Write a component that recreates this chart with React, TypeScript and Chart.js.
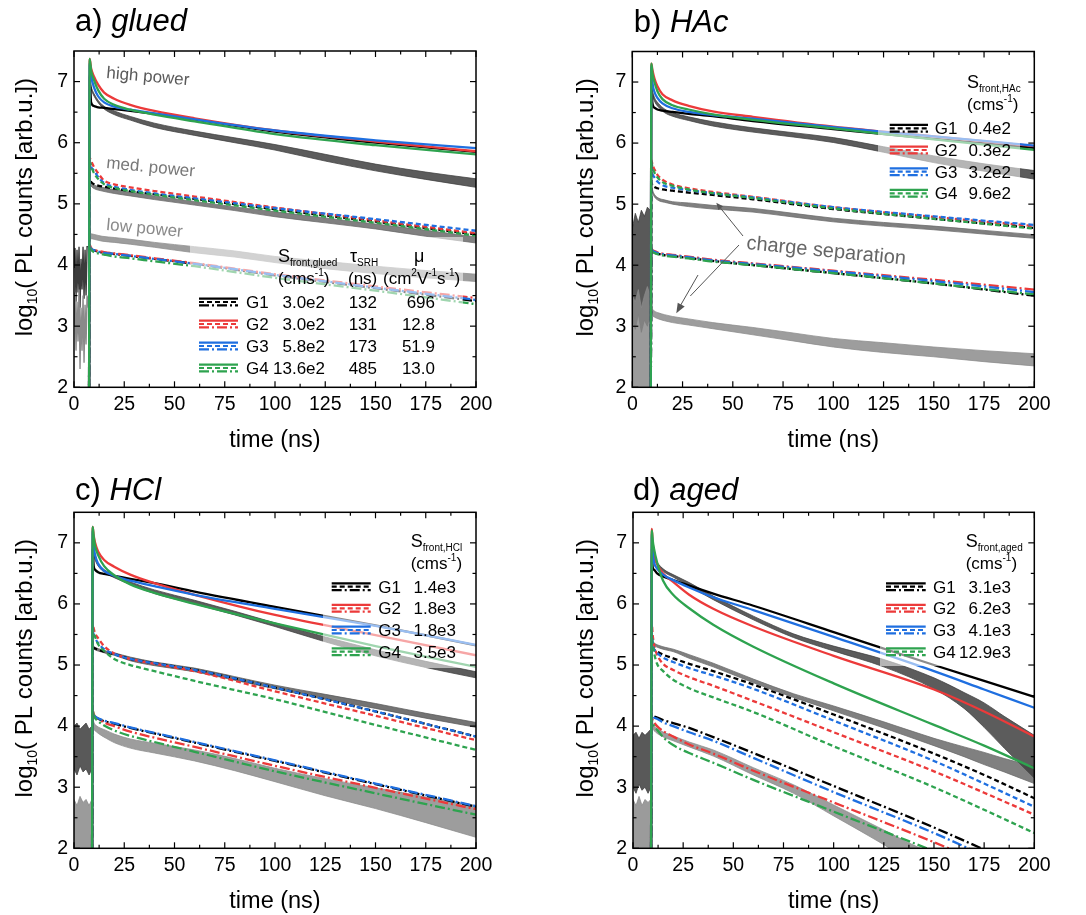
import React, { useEffect, useRef } from 'react';
import { Chart, registerables } from 'chart.js';

Chart.register(...registerables);

const FONT = '"Liberation Sans", Arial, Helvetica, sans-serif';
const W = 543;
const H = 457;

// ---------- axes ----------
const X_TICKS = [0, 25, 50, 75, 100, 125, 150, 175, 200];
const X_MINOR = [12.5, 37.5, 62.5, 87.5, 112.5, 137.5, 162.5, 187.5];
const Y_TICKS = [2, 3, 4, 5, 6, 7];
const Y_MINOR = [2.5, 3.5, 4.5, 5.5, 6.5];

// ---------- legend ----------
const GROUPS = ['G1', 'G2', 'G3', 'G4'];
const COLORS = ['#000000', '#ec3a3a', '#1f6fe0', '#2ea34f'];
const A_S = ['3.0e2', '3.0e2', '5.8e2', '13.6e2'];
const A_TAU = ['132', '131', '173', '485'];
const A_MU = ['696', '12.8', '51.9', '13.0'];
const B_S = ['0.4e2', '0.3e2', '3.2e2', '9.6e2'];
const C_S = ['1.4e3', '1.8e3', '1.8e3', '3.5e3'];
const D_S = ['3.1e3', '6.2e3', '4.1e3', '12.9e3'];

const MED_DASH = [5, 3];
const LOW_DASH = [10, 3, 2, 3];

// ---------- panel a) glued ----------
const T_A = [7.5, 7.8, 8.5, 10, 12, 15, 20, 28, 40, 60, 100, 150, 200];
const A_HI_G1 = [1.9, 7.1, 6.66, 6.6, 6.58, 6.57, 6.55, 6.52, 6.47, 6.38, 6.18, 6.0, 5.85];
const A_HI_G2 = [1.9, 7.37, 7.22, 7.08, 6.95, 6.82, 6.72, 6.62, 6.52, 6.4, 6.2, 6.02, 5.86];
const A_HI_G3 = [1.9, 7.3, 7.1, 6.9, 6.76, 6.66, 6.59, 6.54, 6.48, 6.38, 6.2, 6.04, 5.91];
const A_HI_G4 = [1.9, 7.37, 7.18, 7.02, 6.86, 6.72, 6.62, 6.54, 6.46, 6.35, 6.14, 5.96, 5.81];
const A_MED_G1 = [1.9, 5.4, 5.36, 5.32, 5.3, 5.28, 5.25, 5.21, 5.16, 5.08, 4.91, 4.71, 4.5];
const A_MED_G2 = [1.9, 5.75, 5.7, 5.6, 5.5, 5.38, 5.32, 5.27, 5.21, 5.12, 4.94, 4.73, 4.52];
const A_MED_G3 = [1.9, 5.65, 5.6, 5.54, 5.44, 5.34, 5.28, 5.23, 5.17, 5.09, 4.93, 4.75, 4.56];
const A_MED_G4 = [1.9, 5.7, 5.62, 5.5, 5.41, 5.32, 5.26, 5.21, 5.15, 5.06, 4.89, 4.69, 4.48];
const A_LOW_G1 = [1.9, 4.28, 4.26, 4.24, 4.22, 4.2, 4.18, 4.15, 4.1, 4.02, 3.83, 3.62, 3.41];
const A_LOW_G2 = [1.9, 4.33, 4.28, 4.25, 4.23, 4.21, 4.19, 4.16, 4.11, 4.03, 3.85, 3.65, 3.46];
const A_LOW_G3 = [1.9, 4.3, 4.27, 4.24, 4.22, 4.2, 4.18, 4.15, 4.1, 4.02, 3.84, 3.63, 3.43];
const A_LOW_G4 = [1.9, 4.3, 4.25, 4.21, 4.19, 4.17, 4.14, 4.11, 4.06, 3.98, 3.79, 3.58, 3.36];
const TX_A = [7.8, 8.5, 10, 14, 20, 28, 40, 60, 80, 100, 125, 150, 175, 200];
const A_EXP_HI_UP = [7.02, 6.92, 6.8, 6.62, 6.52, 6.43, 6.32, 6.19, 6.08, 5.97, 5.81, 5.65, 5.52, 5.41];
const A_EXP_HI_DN = [6.98, 6.88, 6.76, 6.58, 6.46, 6.37, 6.25, 6.12, 6.0, 5.88, 5.7, 5.54, 5.4, 5.27];
const A_EXP_MED_UP = [5.39, 5.35, 5.31, 5.27, 5.23, 5.19, 5.13, 5.04, 4.95, 4.87, 4.77, 4.67, 4.57, 4.46];
const A_EXP_MED_DN = [5.33, 5.29, 5.25, 5.21, 5.17, 5.13, 5.07, 4.98, 4.89, 4.79, 4.69, 4.59, 4.47, 4.36];
const A_EXP_LOW_UP = [4.51, 4.51, 4.5, 4.47, 4.45, 4.42, 4.37, 4.3, 4.23, 4.14, 4.06, 3.98, 3.91, 3.85];
const A_EXP_LOW_DN = [4.43, 4.43, 4.42, 4.39, 4.37, 4.34, 4.29, 4.2, 4.13, 4.04, 3.94, 3.86, 3.79, 3.73];
const PRE_T_A = [0, 0.5, 1.0, 1.5, 2.0, 2.5, 3.0, 3.5, 4.0, 4.5, 5.0, 5.5, 6.0, 6.5, 7.2];
const A_PRE_DARK = [3.95, 4.28, 3.4, 4.25, 3.55, 4.3, 3.3, 4.1, 3.6, 4.3, 3.45, 4.25, 3.5, 4.3, 4.3];
const A_PRE_LIGHT = [3.0, 3.55, 2.6, 3.4, 2.75, 3.6, 2.3, 3.3, 2.6, 3.5, 2.4, 3.35, 2.7, 3.5, 3.3];

// ---------- panel b) HAc ----------
const T_B = [9.2, 9.5, 10, 11, 12.5, 15, 20, 28, 40, 60, 100, 150, 200];
const B_HI_G1 = [1.9, 7.0, 6.66, 6.58, 6.55, 6.53, 6.51, 6.48, 6.44, 6.36, 6.23, 6.07, 5.92];
const B_HI_G2 = [1.9, 7.3, 7.2, 7.06, 6.93, 6.8, 6.7, 6.61, 6.52, 6.43, 6.27, 6.11, 5.95];
const B_HI_G3 = [1.9, 7.25, 7.0, 6.84, 6.74, 6.65, 6.57, 6.51, 6.46, 6.4, 6.26, 6.11, 5.96];
const B_HI_G4 = [1.9, 7.3, 7.15, 7.0, 6.85, 6.72, 6.62, 6.55, 6.47, 6.38, 6.24, 6.06, 5.89];
const B_MED_G1 = [1.9, 5.35, 5.31, 5.28, 5.26, 5.24, 5.22, 5.19, 5.15, 5.08, 4.92, 4.76, 4.61];
const B_MED_G2 = [1.9, 5.72, 5.65, 5.57, 5.48, 5.4, 5.32, 5.26, 5.2, 5.12, 4.95, 4.79, 4.64];
const B_MED_G3 = [1.9, 5.6, 5.5, 5.44, 5.37, 5.31, 5.27, 5.23, 5.18, 5.11, 4.95, 4.8, 4.66];
const B_MED_G4 = [1.9, 5.7, 5.6, 5.52, 5.44, 5.36, 5.3, 5.24, 5.18, 5.1, 4.93, 4.76, 4.6];
const B_LOW_G1 = [1.9, 4.25, 4.23, 4.21, 4.19, 4.17, 4.15, 4.12, 4.07, 4.0, 3.87, 3.7, 3.5];
const B_LOW_G2 = [1.9, 4.28, 4.25, 4.23, 4.21, 4.19, 4.17, 4.14, 4.09, 4.03, 3.91, 3.76, 3.6];
const B_LOW_G3 = [1.9, 4.27, 4.24, 4.22, 4.2, 4.18, 4.16, 4.13, 4.08, 4.02, 3.9, 3.74, 3.56];
const B_LOW_G4 = [1.9, 4.26, 4.22, 4.2, 4.18, 4.16, 4.14, 4.11, 4.06, 4.0, 3.87, 3.7, 3.52];
const TX_B = [9.5, 10, 11, 13, 16, 20, 28, 40, 60, 80, 100, 125, 150, 175, 200];
const B_EXP_HI_UP = [7.02, 6.87, 6.75, 6.65, 6.56, 6.5, 6.43, 6.35, 6.25, 6.17, 6.09, 5.94, 5.79, 5.66, 5.55];
const B_EXP_HI_DN = [6.98, 6.81, 6.69, 6.59, 6.5, 6.44, 6.37, 6.28, 6.18, 6.1, 6.01, 5.85, 5.68, 5.54, 5.41];
const B_EXP_MED_UP = [5.32, 5.24, 5.16, 5.1, 5.07, 5.04, 5.02, 4.98, 4.93, 4.85, 4.77, 4.7, 4.64, 4.57, 4.5];
const B_EXP_MED_DN = [5.28, 5.2, 5.12, 5.06, 5.03, 5.0, 4.96, 4.92, 4.87, 4.79, 4.71, 4.64, 4.58, 4.51, 4.44];
const B_EXP_LOW_UP = [3.38, 3.29, 3.25, 3.22, 3.19, 3.16, 3.12, 3.06, 2.98, 2.89, 2.8, 2.73, 2.66, 2.6, 2.55];
const B_EXP_LOW_DN = [3.3, 3.19, 3.15, 3.12, 3.09, 3.06, 3.02, 2.96, 2.86, 2.76, 2.66, 2.57, 2.5, 2.42, 2.35];
const PRE_T = [0, 1.5, 3, 4.5, 6, 7.5, 8.9];
const B_PRE_DARK_UP = [4.6, 4.85, 4.7, 4.9, 4.8, 4.95, 4.9];
const B_PRE_DARK_DN = [3.1, 2.95, 3.2, 2.9, 3.1, 3.0, 3.2];
const B_PRE_LIGHT_UP = [3.5, 3.4, 3.6, 3.3, 3.5, 3.65, 3.5];
const B_PRE_LIGHT_DN = [1.95, 1.95, 1.95, 1.95, 1.95, 1.95, 1.95];

// ---------- panel c) HCl ----------
const T_C = [9.0, 9.3, 9.8, 10.5, 12, 15, 20, 28, 40, 60, 100, 150, 200];
const C_HI_G1 = [1.9, 6.9, 6.62, 6.56, 6.52, 6.49, 6.46, 6.41, 6.34, 6.2, 5.95, 5.65, 5.32];
const C_HI_G2 = [1.9, 7.26, 7.12, 7.0, 6.86, 6.72, 6.61, 6.48, 6.34, 6.15, 5.82, 5.49, 5.16];
const C_HI_G3 = [1.9, 7.2, 6.95, 6.8, 6.66, 6.54, 6.46, 6.38, 6.29, 6.15, 5.92, 5.64, 5.33];
const C_HI_G4 = [1.9, 7.26, 7.1, 6.95, 6.8, 6.62, 6.47, 6.32, 6.18, 6.0, 5.68, 5.31, 4.97];
const C_MED_G1 = [1.9, 5.3, 5.28, 5.27, 5.25, 5.22, 5.18, 5.1, 5.03, 4.92, 4.63, 4.24, 3.83];
const C_MED_G2 = [1.9, 5.66, 5.6, 5.52, 5.44, 5.31, 5.19, 5.1, 5.02, 4.9, 4.57, 4.17, 3.77];
const C_MED_G3 = [1.9, 5.55, 5.5, 5.44, 5.36, 5.26, 5.18, 5.1, 5.03, 4.92, 4.63, 4.24, 3.83];
const C_MED_G4 = [1.9, 5.6, 5.52, 5.46, 5.34, 5.23, 5.1, 5.0, 4.9, 4.74, 4.44, 4.02, 3.61];
const C_LOW_G1 = [1.9, 4.2, 4.17, 4.15, 4.12, 4.08, 4.04, 3.97, 3.88, 3.73, 3.43, 3.05, 2.68];
const C_LOW_G2 = [1.9, 4.25, 4.2, 4.16, 4.12, 4.06, 4.0, 3.91, 3.81, 3.66, 3.35, 2.99, 2.64];
const C_LOW_G3 = [1.9, 4.22, 4.18, 4.16, 4.13, 4.09, 4.05, 3.98, 3.89, 3.74, 3.44, 3.06, 2.69];
const C_LOW_G4 = [1.9, 4.25, 4.18, 4.13, 4.08, 4.01, 3.93, 3.84, 3.74, 3.58, 3.26, 2.9, 2.55];
const TX_C = [9.3, 10, 11, 13, 16, 20, 28, 40, 60, 80, 100, 125, 150, 175, 200];
const C_EXP_HI_UP = [6.97, 6.82, 6.72, 6.62, 6.54, 6.47, 6.36, 6.23, 6.06, 5.88, 5.69, 5.46, 5.25, 5.06, 4.89];
const C_EXP_HI_DN = [6.93, 6.78, 6.68, 6.58, 6.5, 6.43, 6.32, 6.17, 6.0, 5.82, 5.63, 5.38, 5.15, 4.96, 4.79];
const C_EXP_MED_UP = [5.32, 5.3, 5.28, 5.26, 5.23, 5.2, 5.13, 5.05, 4.95, 4.81, 4.67, 4.52, 4.37, 4.21, 4.06];
const C_EXP_MED_DN = [5.28, 5.26, 5.24, 5.22, 5.19, 5.16, 5.07, 4.99, 4.89, 4.75, 4.61, 4.44, 4.29, 4.13, 3.98];
const C_EXP_LOW_UP = [4.14, 4.05, 4.01, 3.97, 3.93, 3.87, 3.79, 3.72, 3.61, 3.47, 3.31, 3.14, 2.99, 2.84, 2.7];
const C_EXP_LOW_DN = [4.06, 3.95, 3.91, 3.86, 3.8, 3.73, 3.64, 3.56, 3.43, 3.27, 3.09, 2.86, 2.65, 2.42, 2.18];
const C_PRE_DARK_UP = [4.0, 4.05, 3.95, 4.0, 4.05, 3.95, 4.0];
const C_PRE_DARK_DN = [3.3, 3.2, 3.35, 3.25, 3.3, 3.2, 3.3];
const C_PRE_LIGHT_UP = [2.8, 2.7, 2.85, 2.75, 2.8, 2.7, 2.8];
const C_PRE_LIGHT_DN = [1.95, 1.95, 1.95, 1.95, 1.95, 1.95, 1.95];

// ---------- panel d) aged ----------
const T_D = [9.0, 9.4, 9.8, 10.5, 12, 15, 20, 28, 40, 60, 100, 150, 175, 200];
const D_HI_G1 = [1.9, 6.9, 6.6, 6.56, 6.5, 6.45, 6.39, 6.3, 6.17, 5.97, 5.54, 5.0, 4.74, 4.48];
const D_HI_G2 = [1.9, 7.23, 7.0, 6.82, 6.65, 6.5, 6.36, 6.15, 5.92, 5.63, 5.15, 4.6, 4.24, 3.83];
const D_HI_G3 = [1.9, 7.15, 6.85, 6.68, 6.58, 6.48, 6.39, 6.27, 6.11, 5.9, 5.46, 4.9, 4.6, 4.3];
const D_HI_G4 = [1.9, 7.2, 7.05, 6.9, 6.68, 6.38, 6.15, 5.93, 5.66, 5.3, 4.7, 4.02, 3.68, 3.31];
const D_MED_G1 = [1.9, 5.3, 5.27, 5.25, 5.22, 5.17, 5.11, 5.02, 4.9, 4.68, 4.19, 3.55, 3.2, 2.82];
const D_MED_G2 = [1.9, 5.66, 5.5, 5.33, 5.17, 5.02, 4.92, 4.8, 4.66, 4.41, 3.9, 3.26, 2.91, 2.55];
const D_MED_G3 = [1.9, 5.5, 5.35, 5.26, 5.2, 5.12, 5.05, 4.95, 4.83, 4.61, 4.09, 3.43, 3.06, 2.68];
const D_MED_G4 = [1.9, 5.5, 5.35, 5.2, 5.02, 4.9, 4.76, 4.62, 4.47, 4.23, 3.67, 3.0, 2.63, 2.25];
const D_LOW_G1 = [1.9, 4.2, 4.18, 4.16, 4.14, 4.1, 4.05, 3.97, 3.82, 3.56, 3.02, 2.34, 1.98, 1.62];
const D_LOW_G2 = [1.9, 4.15, 4.1, 4.06, 4.0, 3.92, 3.83, 3.7, 3.55, 3.27, 2.75, 2.1, 1.75, 1.4];
const D_LOW_G3 = [1.9, 4.2, 4.17, 4.14, 4.12, 4.06, 4.0, 3.9, 3.76, 3.48, 2.92, 2.25, 1.88, 1.5];
const D_LOW_G4 = [1.9, 4.1, 4.05, 4.0, 3.94, 3.82, 3.69, 3.56, 3.4, 3.12, 2.6, 1.95, 1.6, 1.25];
const TX_D = [9.4, 10, 11, 13, 16, 20, 28, 40, 60, 80, 100, 125, 150, 165, 175, 185, 200];
const D_EXP_HI_UP = [6.97, 6.82, 6.74, 6.64, 6.55, 6.48, 6.35, 6.13, 5.8, 5.51, 5.31, 5.09, 4.79, 4.55, 4.38, 4.16, 3.85];
const D_EXP_HI_DN = [6.93, 6.78, 6.7, 6.6, 6.51, 6.44, 6.29, 6.07, 5.74, 5.45, 5.23, 4.97, 4.61, 4.29, 3.98, 3.64, 3.15];
const D_EXP_MED_UP = [5.42, 5.38, 5.35, 5.32, 5.29, 5.26, 5.17, 5.03, 4.77, 4.53, 4.33, 4.07, 3.8, 3.66, 3.57, 3.47, 3.34];
const D_EXP_MED_DN = [5.38, 5.34, 5.31, 5.28, 5.25, 5.22, 5.11, 4.97, 4.71, 4.47, 4.25, 3.97, 3.68, 3.5, 3.37, 3.25, 3.06];
const TX_D2 = [9.4, 10, 11, 13, 16, 20, 28, 40, 60, 80, 100, 125, 140, 155];
const D_EXP_LOW_UP = [4.13, 4.04, 3.99, 3.94, 3.89, 3.84, 3.74, 3.61, 3.32, 3.04, 2.71, 2.3, 2.05, 1.85];
const D_EXP_LOW_DN = [4.07, 3.96, 3.91, 3.86, 3.81, 3.76, 3.66, 3.51, 3.2, 2.9, 2.53, 2.06, 1.75, 1.45];
const D_PRE_DARK_UP = [3.85, 3.9, 3.8, 3.9, 3.85, 3.9, 3.95];
const D_PRE_DARK_DN = [3.0, 2.9, 3.05, 2.95, 3.0, 2.9, 3.0];
const D_PRE_LIGHT_UP = [2.8, 2.7, 2.85, 2.7, 2.8, 2.75, 2.8];
const D_PRE_LIGHT_DN = [1.95, 1.95, 1.95, 1.95, 1.95, 1.95, 1.95];

const GRAY_DARK = '#404040';
const GRAY_MED = '#6a6a6a';
const GRAY_LIGHT = '#8c8c8c';

// ---------- dataset helpers ----------
function pts(t: number[], v: number[]) {
  return t.map((x, i) => ({ x, y: v[i] }));
}
function alpha(hex: string, a: number) {
  const n = parseInt(hex.slice(1), 16);
  return `rgba(${(n >> 16) & 255},${(n >> 8) & 255},${n & 255},${a})`;
}
function sim(t: number[], v: number[], color: string, dash: number[]) {
  return {
    data: pts(t, v), borderColor: color, borderWidth: 2.3, borderDash: dash,
    pointRadius: 0, fill: false, cubicInterpolationMode: 'monotone', clip: 0,
  };
}
function band(t: number[], up: number[], dn: number[], color: string, smooth = true) {
  const common = {
    borderColor: alpha(color, 0.85), borderWidth: 0.9, pointRadius: 0, clip: 0,
    cubicInterpolationMode: smooth ? 'monotone' : 'default', tension: 0,
  };
  return [
    { ...common, data: pts(t, up), backgroundColor: alpha(color, 0.85), fill: '+1' },
    { ...common, data: pts(t, dn), fill: false },
  ];
}
function zig(t: number[], v: number[], color: string) {
  return { data: pts(t, v), borderColor: color, borderWidth: 1.4, pointRadius: 0, fill: false, tension: 0, clip: 0 };
}
function sims(t: number[], hi: number[][], med: number[][], low: number[][]) {
  const out: any[] = [];
  const order = [3, 2, 1, 0];
  order.forEach((i) => out.push(sim(t, hi[i], COLORS[i], [])));
  order.forEach((i) => out.push(sim(t, med[i], COLORS[i], MED_DASH)));
  order.forEach((i) => out.push(sim(t, low[i], COLORS[i], LOW_DASH)));
  return out;
}

// ---------- drawing helpers ----------
type Part = { t: string; size: number; dy?: number; italic?: boolean };
function fontOf(p: Part) {
  return `${p.italic ? 'italic ' : ''}${p.size}px ${FONT}`;
}
function drawRich(ctx: CanvasRenderingContext2D, x: number, y: number, parts: Part[], align: 'left' | 'right' | 'center' = 'left') {
  ctx.textAlign = 'left';
  ctx.textBaseline = 'alphabetic';
  let total = 0;
  for (const p of parts) { ctx.font = fontOf(p); total += ctx.measureText(p.t).width; }
  let cx = align === 'left' ? x : align === 'right' ? x - total : x - total / 2;
  for (const p of parts) {
    ctx.font = fontOf(p);
    ctx.fillText(p.t, cx, y + (p.dy || 0));
    cx += ctx.measureText(p.t).width;
  }
}
function rotText(ctx: CanvasRenderingContext2D, x: number, y: number, deg: number, text: string, size: number, color: string) {
  ctx.save();
  ctx.translate(x, y);
  ctx.rotate((deg * Math.PI) / 180);
  ctx.fillStyle = color;
  drawRich(ctx, 0, 0, [{ t: text, size }]);
  ctx.restore();
}
function paleBox(ctx: CanvasRenderingContext2D, x0: number, y0: number, x1: number, y1: number) {
  ctx.fillStyle = 'rgba(255,255,255,0.55)';
  ctx.fillRect(x0, y0, x1 - x0, y1 - y0);
}
function sample(ctx: CanvasRenderingContext2D, x0: number, x1: number, cy: number, color: string) {
  ctx.strokeStyle = color;
  ctx.lineWidth = 2.2;
  const rows: [number, number[]][] = [[-3.4, []], [0, MED_DASH], [3.4, LOW_DASH]];
  rows.forEach(([dy, dash]) => {
    ctx.setLineDash(dash);
    ctx.beginPath();
    ctx.moveTo(x0, cy + dy);
    ctx.lineTo(x1, cy + dy);
    ctx.stroke();
  });
  ctx.setLineDash([]);
}
function legendRows(ctx: CanvasRenderingContext2D, sx0: number, sx1: number, gx: number, baselines: number[],
  cols: { x: number; align: 'left' | 'right'; vals: string[] }[]) {
  baselines.forEach((bl, i) => {
    sample(ctx, sx0, sx1, bl - 6, COLORS[i]);
    ctx.fillStyle = '#000';
    drawRich(ctx, gx, bl, [{ t: GROUPS[i], size: 17 }]);
    cols.forEach((c) => drawRich(ctx, c.x, bl, [{ t: c.vals[i], size: 17 }], c.align));
  });
}
function header(ctx: CanvasRenderingContext2D, x: number, bl: number, sub: string) {
  ctx.fillStyle = '#000';
  drawRich(ctx, x, bl, [{ t: 'S', size: 18 }, { t: sub, size: 10, dy: 4 }]);
  drawRich(ctx, x, bl + 22, [{ t: '(cms', size: 17 }, { t: '-1', size: 10, dy: -8 }, { t: ')', size: 17 }]);
}
function arrowHead(ctx: CanvasRenderingContext2D, x0: number, y0: number, x1: number, y1: number, len: number, half: number) {
  const a = Math.atan2(y1 - y0, x1 - x0);
  ctx.beginPath();
  ctx.moveTo(x1, y1);
  ctx.lineTo(x1 - len * Math.cos(a) + half * Math.sin(a), y1 - len * Math.sin(a) - half * Math.cos(a));
  ctx.lineTo(x1 - len * Math.cos(a) - half * Math.sin(a), y1 - len * Math.sin(a) + half * Math.cos(a));
  ctx.closePath();
  ctx.fill();
}
function seg(ctx: CanvasRenderingContext2D, x0: number, y0: number, x1: number, y1: number) {
  ctx.beginPath();
  ctx.moveTo(x0, y0);
  ctx.lineTo(x1, y1);
  ctx.stroke();
}

// ---------- panels ----------
type Cfg = {
  left: number; top: number;
  area: { l: number; t: number; r: number; b: number };
  label: string; name: string; titleX: number; titleY: number;
  yTitleX: number; xTitleY: number;
  datasets: any[];
  decorate: (ctx: CanvasRenderingContext2D) => void;
};

const PANELS: Cfg[] = [
  {
    left: 0, top: 0, area: { l: 74, t: 51, r: 476, b: 387.3 },
    label: 'a) ', name: 'glued', titleX: 75, titleY: 31,
    yTitleX: 31.5, xTitleY: 446.5,
    datasets: [
      ...sims(T_A, [A_HI_G1, A_HI_G2, A_HI_G3, A_HI_G4], [A_MED_G1, A_MED_G2, A_MED_G3, A_MED_G4], [A_LOW_G1, A_LOW_G2, A_LOW_G3, A_LOW_G4]),
      ...band(TX_A, A_EXP_HI_UP, A_EXP_HI_DN, GRAY_DARK),
      ...band(TX_A, A_EXP_MED_UP, A_EXP_MED_DN, GRAY_MED),
      ...band(TX_A, A_EXP_LOW_UP, A_EXP_LOW_DN, GRAY_LIGHT),
      zig(PRE_T_A, A_PRE_LIGHT, '#8a8a8a'),
      zig(PRE_T_A, A_PRE_DARK, '#3c3c3c'),
    ],
    decorate: (ctx) => {
      rotText(ctx, 106, 78, 5, 'high power', 17, '#5a5a5a');
      rotText(ctx, 106, 168, 5.6, 'med. power', 17, '#787878');
      rotText(ctx, 106, 230, 5.2, 'low power', 17, '#8a8a8a');
      paleBox(ctx, 190, 237, 463, 380);
      ctx.fillStyle = '#000';
      drawRich(ctx, 278, 262, [{ t: 'S', size: 18 }, { t: 'front,glued', size: 10, dy: 4 }]);
      drawRich(ctx, 350, 262, [{ t: 'τ', size: 18 }, { t: 'SRH', size: 10, dy: 4 }]);
      drawRich(ctx, 414, 262, [{ t: 'μ', size: 18 }]);
      drawRich(ctx, 278, 284, [{ t: '(cms', size: 17 }, { t: '-1', size: 10, dy: -8 }, { t: ')', size: 17 }]);
      drawRich(ctx, 348, 284, [{ t: '(ns)', size: 17 }]);
      drawRich(ctx, 383, 284, [
        { t: '(cm', size: 17 }, { t: '2', size: 10, dy: -8 }, { t: 'V', size: 17 }, { t: '-1', size: 10, dy: -8 },
        { t: 's', size: 17 }, { t: '-1', size: 10, dy: -8 }, { t: ')', size: 17 },
      ]);
      legendRows(ctx, 199, 238, 246, [308, 330, 352, 374], [
        { x: 325, align: 'right', vals: A_S },
        { x: 377, align: 'right', vals: A_TAU },
        { x: 435, align: 'right', vals: A_MU },
      ]);
    },
  },
  {
    left: 543, top: 0, area: { l: 89.3, t: 51.5, r: 491.3, b: 387.3 },
    label: 'b) ', name: 'HAc', titleX: 90.7, titleY: 31.5,
    yTitleX: 50, xTitleY: 446.5,
    datasets: [
      ...sims(T_B, [B_HI_G1, B_HI_G2, B_HI_G3, B_HI_G4], [B_MED_G1, B_MED_G2, B_MED_G3, B_MED_G4], [B_LOW_G1, B_LOW_G2, B_LOW_G3, B_LOW_G4]),
      ...band(TX_B, B_EXP_HI_UP, B_EXP_HI_DN, GRAY_DARK),
      ...band(TX_B, B_EXP_MED_UP, B_EXP_MED_DN, GRAY_MED),
      ...band(TX_B, B_EXP_LOW_UP, B_EXP_LOW_DN, GRAY_LIGHT),
      ...band(PRE_T, B_PRE_LIGHT_UP, B_PRE_LIGHT_DN, '#8a8a8a', false),
      ...band(PRE_T, B_PRE_DARK_UP, B_PRE_DARK_DN, '#3c3c3c', false),
    ],
    decorate: (ctx) => {
      paleBox(ctx, 335, 66, 477, 203);
      header(ctx, 424, 88, 'front,HAc');
      legendRows(ctx, 346.7, 385, 391.7, [134.3, 156, 177.7, 199.3], [{ x: 468, align: 'right', vals: B_S }]);
      rotText(ctx, 203, 249, 5.6, 'charge separation', 20, '#666');
      ctx.strokeStyle = '#555';
      ctx.fillStyle = '#555';
      ctx.lineWidth = 1;
      seg(ctx, 200, 236, 175, 205);
      arrowHead(ctx, 200, 236, 173.3, 202.7, 7, 3);
      seg(ctx, 196, 245, 147.3, 296);
      seg(ctx, 155, 275, 136, 308);
      arrowHead(ctx, 155, 275, 133.3, 313.3, 10, 4);
    },
  },
  {
    left: 0, top: 457, area: { l: 74, t: 55.3, r: 476, b: 391.3 },
    label: 'c) ', name: 'HCl', titleX: 75, titleY: 43,
    yTitleX: 31.5, xTitleY: 451,
    datasets: [
      ...sims(T_C, [C_HI_G1, C_HI_G2, C_HI_G3, C_HI_G4], [C_MED_G1, C_MED_G2, C_MED_G3, C_MED_G4], [C_LOW_G1, C_LOW_G2, C_LOW_G3, C_LOW_G4]),
      ...band(TX_C, C_EXP_HI_UP, C_EXP_HI_DN, GRAY_DARK),
      ...band(TX_C, C_EXP_MED_UP, C_EXP_MED_DN, '#5a5a5a'),
      ...band(TX_C, C_EXP_LOW_UP, C_EXP_LOW_DN, GRAY_LIGHT),
      ...band(PRE_T, C_PRE_LIGHT_UP, C_PRE_LIGHT_DN, '#8a8a8a', false),
      ...band(PRE_T, C_PRE_DARK_UP, C_PRE_DARK_DN, '#3c3c3c', false),
    ],
    decorate: (ctx) => {
      paleBox(ctx, 323, 68, 476, 211);
      header(ctx, 410.7, 89.7, 'front,HCl');
      legendRows(ctx, 331.7, 370.7, 378.3, [135.7, 157.3, 179, 200.7], [{ x: 456, align: 'right', vals: C_S }]);
    },
  },
  {
    left: 543, top: 457, area: { l: 90, t: 55.3, r: 491.3, b: 391.3 },
    label: 'd) ', name: 'aged', titleX: 90, titleY: 43,
    yTitleX: 49.5, xTitleY: 451,
    datasets: [
      ...sims(T_D, [D_HI_G1, D_HI_G2, D_HI_G3, D_HI_G4], [D_MED_G1, D_MED_G2, D_MED_G3, D_MED_G4], [D_LOW_G1, D_LOW_G2, D_LOW_G3, D_LOW_G4]),
      ...band(TX_D, D_EXP_HI_UP, D_EXP_HI_DN, GRAY_DARK),
      ...band(TX_D, D_EXP_MED_UP, D_EXP_MED_DN, GRAY_MED),
      ...band(TX_D2, D_EXP_LOW_UP, D_EXP_LOW_DN, GRAY_LIGHT),
      ...band(PRE_T, D_PRE_LIGHT_UP, D_PRE_LIGHT_DN, '#8a8a8a', false),
      ...band(PRE_T, D_PRE_DARK_UP, D_PRE_DARK_DN, '#3c3c3c', false),
    ],
    decorate: (ctx) => {
      paleBox(ctx, 337, 68, 491, 209);
      header(ctx, 422.7, 89.7, 'front,aged');
      legendRows(ctx, 343, 382.7, 390, [135.7, 157.3, 179, 200.7], [{ x: 468, align: 'right', vals: D_S }]);
    },
  },
];

function decorPlugin(cfg: Cfg) {
  return {
    id: 'decor',
    afterDraw(chart: any) {
      const ctx: CanvasRenderingContext2D = chart.ctx;
      const a = chart.chartArea;
      const xs = chart.scales.x;
      const ys = chart.scales.y;
      ctx.save();
      cfg.decorate(ctx);
      // frame
      ctx.setLineDash([]);
      ctx.strokeStyle = '#000';
      ctx.lineWidth = 1.5;
      ctx.strokeRect(a.left, a.top, a.right - a.left, a.bottom - a.top);
      ctx.lineWidth = 1.2;
      const tick = (vals: number[], len: number, horiz: boolean) => {
        vals.forEach((v) => {
          if (horiz) {
            const px = xs.getPixelForValue(v);
            seg(ctx, px, a.bottom, px, a.bottom - len);
            seg(ctx, px, a.top, px, a.top + len);
          } else {
            const py = ys.getPixelForValue(v);
            seg(ctx, a.left, py, a.left + len, py);
            seg(ctx, a.right, py, a.right - len, py);
          }
        });
      };
      tick(X_TICKS, 6, true);
      tick(X_MINOR, 3.5, true);
      tick(Y_TICKS, 6, false);
      tick(Y_MINOR, 3.5, false);
      // panel title
      ctx.fillStyle = '#000';
      drawRich(ctx, cfg.titleX, cfg.titleY, [{ t: cfg.label, size: 31 }, { t: cfg.name, size: 31, italic: true }]);
      // x title
      drawRich(ctx, (a.left + a.right) / 2, cfg.xTitleY, [{ t: 'time (ns)', size: 23.5 }], 'center');
      // y title
      ctx.save();
      ctx.translate(cfg.yTitleX, (a.top + a.bottom) / 2 - 12);
      ctx.rotate(-Math.PI / 2);
      drawRich(ctx, 0, 0, [{ t: 'log', size: 24 }, { t: '10', size: 14, dy: 5 }, { t: '( PL counts [arb.u.])', size: 24 }], 'center');
      ctx.restore();
      ctx.restore();
    },
  };
}

function Panel({ cfg }: { cfg: Cfg }) {
  const ref = useRef<HTMLCanvasElement>(null);
  useEffect(() => {
    const canvas = ref.current;
    if (!canvas) return;
    const yW = 40;
    const chart = new Chart(canvas, {
      type: 'line',
      data: { datasets: cfg.datasets },
      options: {
        responsive: false,
        animation: false,
        devicePixelRatio: 1,
        events: [],
        layout: { padding: { left: cfg.area.l - yW, top: cfg.area.t, right: W - cfg.area.r, bottom: 0 } },
        plugins: { legend: { display: false }, tooltip: { enabled: false }, title: { display: false } },
        scales: {
          x: {
            type: 'linear', min: 0, max: 200,
            afterBuildTicks: (s: any) => { s.ticks = X_TICKS.map((value) => ({ value })); },
            afterFit: (s: any) => { s.height = H - cfg.area.b; },
            grid: { display: false, drawTicks: false },
            border: { display: false },
            ticks: { font: { family: FONT, size: 19.5 }, color: '#000', padding: 6, maxRotation: 0, autoSkip: false },
          },
          y: {
            type: 'linear', min: 2, max: 7.5,
            afterBuildTicks: (s: any) => { s.ticks = Y_TICKS.map((value) => ({ value })); },
            afterFit: (s: any) => { s.width = yW; },
            grid: { display: false, drawTicks: false },
            border: { display: false },
            ticks: { font: { family: FONT, size: 19.5 }, color: '#000', padding: 6 },
          },
        },
      } as any,
      plugins: [decorPlugin(cfg)],
    } as any);
    return () => chart.destroy();
  }, [cfg]);
  return (
    <canvas
      ref={ref}
      width={W}
      height={H}
      style={{ position: 'absolute', left: cfg.left, top: cfg.top, width: W, height: H }}
    />
  );
}

export default function App() {
  useEffect(() => {
    document.body.style.margin = '0';
  }, []);
  return (
    <div style={{ position: 'relative', width: 1086, height: 915, background: '#fff', overflow: 'hidden' }}>
      {PANELS.map((cfg, i) => (
        <Panel key={i} cfg={cfg} />
      ))}
    </div>
  );
}
